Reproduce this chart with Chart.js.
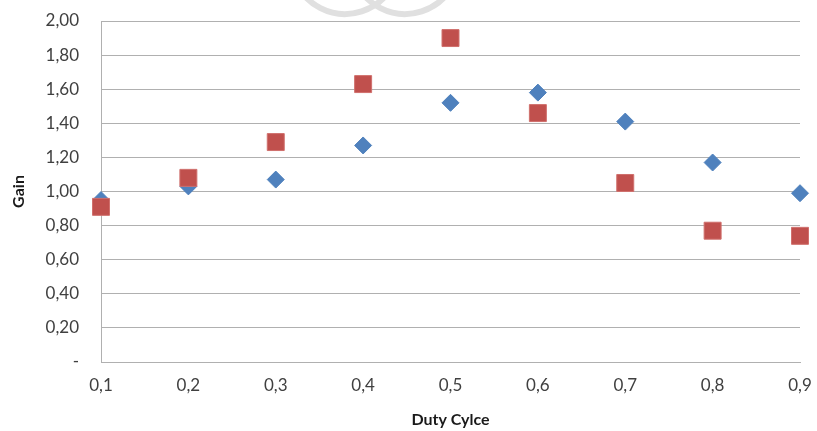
<!DOCTYPE html>
<html>
<head>
<meta charset="utf-8">
<script src="https://cdn.jsdelivr.net/npm/chart.js@4"></script>
<style>
  html, body { margin: 0; padding: 0; background: #fff; }
  #wrap { width: 817px; height: 431px; }
</style>
</head>
<body>
<div id="wrap"><canvas id="gainChart" width="817" height="431"></canvas></div>
<script>
const dutyCycle = [0.1, 0.2, 0.3, 0.4, 0.5, 0.6, 0.7, 0.8, 0.9];
const gainBlue = [0.95, 1.03, 1.07, 1.27, 1.52, 1.58, 1.41, 1.17, 0.99];
const gainRed = [0.91, 1.08, 1.29, 1.63, 1.90, 1.46, 1.05, 0.77, 0.74];

const toPoints = (ys) => dutyCycle.map((x, i) => ({ x: x, y: ys[i] }));

// faint watermark cut off at the top edge
const watermark = {
    id: 'watermark',
    beforeDraw(chart) {
        const c = chart.ctx;
        c.save();
        c.strokeStyle = '#e0e0e0';
        c.lineWidth = 6;
        c.beginPath();
        c.arc(345, -40, 54, 0.15 * Math.PI, 0.85 * Math.PI);
        c.stroke();
        c.beginPath();
        c.arc(405, -40, 54, 0.15 * Math.PI, 0.85 * Math.PI);
        c.stroke();
        c.restore();
    }
};

const ctx = document.getElementById('gainChart').getContext('2d');

new Chart(ctx, {
    type: 'scatter',
    data: {
        datasets: [{
            label: 'Série 1',
            data: toPoints(gainBlue),
            pointStyle: 'rectRot',
            pointRadius: 8.5,
            pointHoverRadius: 8.5,
            backgroundColor: '#4F81BD',
            borderColor: '#4F81BD',
            borderWidth: 1,
            clip: false,
            order: 2
        }, {
            label: 'Série 2',
            data: toPoints(gainRed),
            pointStyle: 'rect',
            pointRadius: 12,
            pointHoverRadius: 12,
            backgroundColor: '#C0504D',
            borderColor: '#D0706D',
            borderWidth: 1,
            clip: false,
            order: 1
        }]
    },
    options: {
        responsive: false,
        animation: false,
        layout: {
            padding: { top: 21, right: 17, left: 0, bottom: 0 }
        },
        scales: {
            x: {
                type: 'linear',
                min: 0.1,
                max: 0.9,
                grid: { display: false, drawTicks: false },
                border: { display: true, color: '#b0b0b0', width: 1 },
                ticks: {
                    stepSize: 0.1,
                    padding: 13,
                    color: '#404040',
                    font: { family: 'Lato', size: 17 },
                    callback: (v) => v.toFixed(1).replace('.', ',')
                },
                title: {
                    display: true,
                    text: 'Duty Cylce',
                    color: '#1a1a1a',
                    font: { family: 'Lato', size: 16, weight: 'bold' },
                    padding: { top: 4, bottom: 2 }
                },
                afterFit: (scale) => {
                    scale.height = 69;
                    scale.paddingLeft = 0;
                    scale.paddingRight = 0;
                }
            },
            y: {
                min: 0,
                max: 2,
                grid: { color: '#b0b0b0', drawTicks: false },
                border: { display: true, color: '#b0b0b0', width: 1 },
                ticks: {
                    stepSize: 0.2,
                    padding: 22,
                    color: '#404040',
                    font: { family: 'Lato', size: 17 },
                    callback: (v) => Math.abs(v) < 1e-9 ? '-' : v.toFixed(2).replace('.', ',')
                },
                title: {
                    display: true,
                    text: 'Gain',
                    color: '#1a1a1a',
                    font: { family: 'Lato', size: 16, weight: 'bold' },
                    padding: { top: 9, bottom: 4 }
                },
                afterFit: (scale) => {
                    scale.width = 101;
                    scale.paddingTop = 0;
                    scale.paddingBottom = 0;
                }
            }
        },
        plugins: {
            legend: { display: false },
            tooltip: { enabled: false }
        }
    },
    plugins: [watermark]
});
</script>
</body>
</html>
